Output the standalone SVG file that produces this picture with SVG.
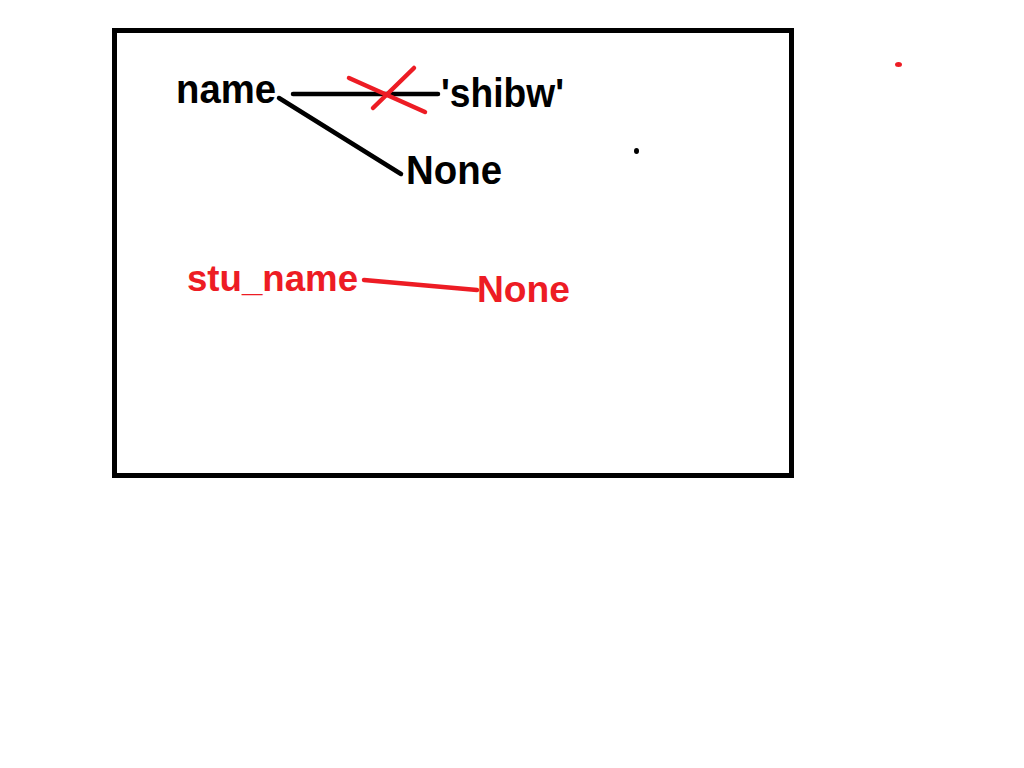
<svg xmlns="http://www.w3.org/2000/svg" width="1024" height="768" viewBox="0 0 1024 768">
<style>
.t{font-family:"Liberation Sans",Arial,sans-serif;font-weight:bold;}
.blk{fill:#000;font-size:40px;}
.red{fill:#ED1C24;font-size:37px;}
.lb{stroke:#000;stroke-width:4.5;stroke-linecap:round;fill:none;}
.lr{stroke:#ED1C24;stroke-width:4.5;stroke-linecap:round;fill:none;}
</style>
<rect x="0" y="0" width="1024" height="768" fill="#fff"/>
<rect id="frame" x="114.5" y="30.5" width="677" height="445" fill="none" stroke="#000" stroke-width="5"/>
<g id="connectors">
<line class="lb" x1="293" y1="94" x2="438" y2="94"/>
<line class="lb" x1="279" y1="98" x2="401" y2="174"/>
<line class="lr" x1="364" y1="280" x2="477" y2="290"/>
</g>
<g id="strike">
<line class="lr" x1="349" y1="78" x2="425" y2="112"/>
<line class="lr" x1="414" y1="68" x2="373" y2="108"/>
</g>
<g id="node-name"><text class="t blk" x="176" y="103" textLength="100" lengthAdjust="spacingAndGlyphs">name</text></g>
<g id="node-shibw"><text class="t blk" x="441" y="107" textLength="123" lengthAdjust="spacingAndGlyphs">'shibw'</text></g>
<g id="node-none"><text class="t blk" x="406" y="184" textLength="96" lengthAdjust="spacingAndGlyphs">None</text></g>
<g id="node-stu_name"><text class="t red" x="187" y="291" textLength="171" lengthAdjust="spacingAndGlyphs">stu_name</text></g>
<g id="node-none-red"><text class="t red" x="477" y="302" textLength="93" lengthAdjust="spacingAndGlyphs">None</text></g>
<ellipse cx="636.5" cy="151" rx="2.5" ry="3" fill="#000"/>
<ellipse cx="898.5" cy="64.5" rx="3.5" ry="2.5" fill="#ED1C24"/>
</svg>
